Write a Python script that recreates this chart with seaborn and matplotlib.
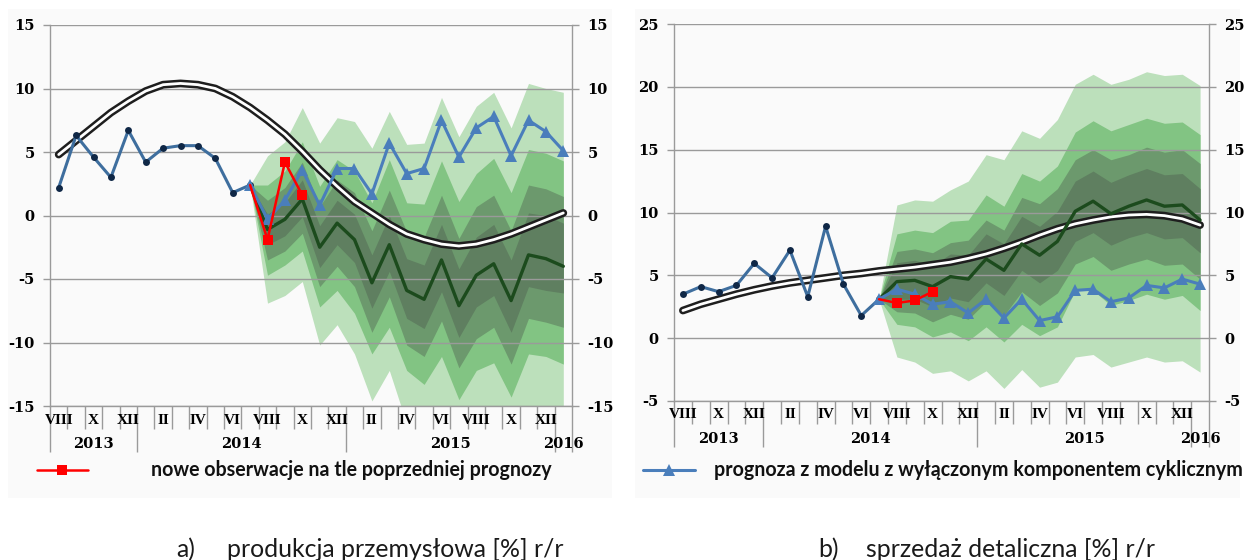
import numpy as np
import matplotlib
matplotlib.use("Agg")
import matplotlib.pyplot as plt
import matplotlib.transforms as mtransforms
from matplotlib.patches import Rectangle
from matplotlib.lines import Line2D
import seaborn as sns

# ------------------------------------------------------------------ data
months = ["VIII", "IX", "X", "XI", "XII",
          "I", "II", "III", "IV", "V", "VI", "VII", "VIII", "IX", "X", "XI", "XII",
          "I", "II", "III", "IV", "V", "VI", "VII", "VIII", "IX", "X", "XI", "XII",
          "I"]
years = ["2013", "2014", "2015", "2016"]

# a) produkcja przemysłowa
ip_hist = [2.2, 6.3, 4.6, 3.0, 6.7, 4.2, 5.3, 5.5, 5.5, 4.5, 1.8, 2.4]
ip_nocycle = [2.4, -0.3, 1.2, 3.6, 0.8, 3.7, 3.7, 1.7, 5.7, 3.3, 3.7, 7.5, 4.6, 6.9, 7.8, 4.7, 7.5, 6.6, 5.1]
ip_new = [2.4, -1.9, 4.2, 1.6]
ip_central = [2.4, -1.1, -0.3, 1.3, -2.5, -0.6, -1.9, -5.3, -2.3, -5.9, -6.6, -3.5, -7.1, -4.7, -3.8, -6.7, -3.1, -3.4, -4.0]
ip_trend = [4.8, 5.9, 7.0, 8.1, 9.0, 9.8, 10.3, 10.4, 10.3, 10.0, 9.35, 8.5, 7.5, 6.4, 5.05,
            3.6, 2.3, 1.1, 0.2, -0.7, -1.45, -1.9, -2.25, -2.4, -2.25, -1.9, -1.45, -0.9, -0.35, 0.2]
ip_b90_hi = [2.4, 4.7, 5.8, 8.5, 5.7, 7.7, 7.4, 5.3, 8.2, 5.6, 5.7, 9.3, 6.2, 8.6, 9.7, 6.9, 10.4, 10.0, 9.7]
ip_b90_lo = [2.4, -6.9, -6.3, -5.2, -10.2, -8.6, -10.9, -14.6, -12.2, -16.4, -17.4, -15.6, -18.8, -16.5, -15.8, -18.6, -15.4, -15.5, -16.0]
ip_b60_hi = [2.4, 2.4, 3.5, 5.8, 2.3, 4.4, 3.5, 1.0, 4.4, 1.0, 0.9, 4.3, 1.1, 3.3, 4.5, 1.8, 5.2, 4.9, 4.3]
ip_b60_lo = [2.4, -4.7, -3.9, -2.8, -7.2, -5.9, -7.7, -10.9, -8.8, -12.2, -13.3, -11.1, -14.5, -12.2, -11.6, -14.3, -10.9, -11.1, -11.7]
ip_b30_hi = [2.4, 1.2, 2.2, 4.2, 0.7, 2.8, 1.8, -1.2, 2.0, -1.3, -1.7, 1.6, -1.8, 0.7, 1.6, -1.2, 2.4, 2.1, 1.5]
ip_b30_lo = [2.4, -3.5, -2.8, -1.4, -5.6, -4.0, -5.6, -9.2, -6.4, -10.2, -11.1, -8.3, -12.0, -9.7, -8.8, -11.7, -8.1, -8.4, -8.8]
ip_b10_hi = [2.4, 0.1, 1.0, 2.8, -0.8, 1.2, 0.1, -3.1, 0.0, -3.4, -3.9, -0.7, -4.2, -1.7, -0.7, -3.5, 0.2, 0.0, -0.6]
ip_b10_lo = [2.4, -2.3, -1.6, -0.1, -4.1, -2.3, -3.7, -7.3, -4.4, -8.1, -8.9, -6.0, -9.6, -7.2, -6.3, -9.2, -5.6, -5.9, -6.1]
ip_yticks = [-15, -10, -5, 0, 5, 10, 15]

# b) sprzedaż detaliczna
rs_hist = [3.5, 4.1, 3.7, 4.2, 5.95, 4.8, 7.0, 3.3, 8.9, 4.3, 1.8, 3.1]
rs_nocycle = [3.1, 3.9, 3.5, 2.7, 2.9, 2.0, 3.1, 1.6, 3.1, 1.4, 1.7, 3.8, 3.9, 2.9, 3.2, 4.2, 4.0, 4.7, 4.3]
rs_new = [3.1, 2.8, 3.0, 3.7]
rs_central = [3.1, 4.5, 4.6, 4.1, 4.9, 4.7, 6.3, 5.4, 7.5, 6.6, 7.7, 10.1, 10.9, 9.9, 10.5, 11.0, 10.5, 10.6, 9.4]
rs_trend = [2.2, 2.7, 3.1, 3.5, 3.85, 4.15, 4.4, 4.6, 4.8, 5.0, 5.15, 5.35, 5.5, 5.65, 5.85,
            6.05, 6.35, 6.7, 7.15, 7.65, 8.2, 8.7, 9.1, 9.4, 9.65, 9.8, 9.85, 9.75, 9.5, 9.0]
rs_b90_hi = [3.1, 10.6, 11.0, 10.9, 11.8, 12.5, 14.6, 14.2, 16.5, 15.9, 17.4, 20.2, 21.0, 20.2, 20.6, 21.2, 20.9, 21.0, 20.1]
rs_b90_lo = [3.1, -1.5, -1.9, -2.8, -2.6, -3.4, -2.6, -4.0, -2.5, -3.9, -3.5, -1.5, -1.3, -2.3, -1.9, -1.5, -1.9, -1.8, -2.7]
rs_b60_hi = [3.1, 8.3, 8.6, 8.4, 9.3, 9.4, 11.4, 10.5, 13.1, 12.5, 13.7, 16.4, 17.3, 16.5, 17.0, 17.5, 17.1, 17.2, 16.2]
rs_b60_lo = [3.1, 1.1, 0.9, 0.1, 0.5, -0.2, 0.9, -0.3, 1.1, 0.2, 0.9, 3.8, 3.8, 2.6, 3.0, 3.5, 3.1, 3.4, 2.2]
rs_b30_hi = [3.1, 6.9, 7.1, 6.8, 7.6, 7.8, 9.4, 8.6, 11.2, 10.7, 11.9, 14.2, 15.0, 14.2, 14.6, 15.2, 14.8, 15.0, 13.9]
rs_b30_lo = [3.1, 2.1, 2.0, 1.3, 1.9, 1.5, 2.9, 1.8, 3.7, 2.6, 3.6, 5.9, 6.5, 5.4, 5.9, 6.3, 5.8, 5.9, 4.7]
rs_b10_hi = [3.1, 6.0, 6.2, 5.8, 6.7, 6.6, 8.3, 7.5, 9.7, 8.9, 10.1, 12.5, 13.3, 12.4, 13.0, 13.5, 13.0, 13.1, 11.9]
rs_b10_lo = [3.1, 3.1, 3.1, 2.5, 3.2, 2.9, 4.4, 3.4, 5.4, 4.4, 5.4, 7.7, 8.4, 7.4, 8.0, 8.4, 7.9, 8.0, 6.8]
rs_yticks = [-5, 0, 5, 10, 15, 20, 25]

legend_a = "nowe obserwacje na tle poprzedniej prognozy"
legend_b = "prognoza z modelu z wyłączonym komponentem cyklicznym"
caption_a = ("a)", "produkcja przemysłowa [%] r/r")
caption_b = ("b)", "sprzedaż detaliczna [%] r/r")

# ------------------------------------------------------------------ style
sns.set_theme(style="white")
plt.rcParams["font.family"] = ["DejaVu Sans"]

FAN_COLORS = ["#BCE0BB", "#82C483", "#6C996D", "#5F7F60"]
C_HIST_LINE = "#3E6E9E"
C_HIST_DOT = "#0F2746"
C_NOCYC = "#4A7EBB"
C_CENTRAL = "#1C4B1D"
C_NEW = "#FF0000"
C_GRID = "#9A9A9A"
C_BG = "#FAFAFA"
SERIF = "DejaVu Serif"
SANS = "Lato"

W, H, DPI = 1245, 560, 100
fig = plt.figure(figsize=(W / DPI, H / DPI), dpi=DPI)
fig.patch.set_facecolor("white")


def fx(px):
    return px / W


def fy(py):
    return 1 - py / H


for x0, x1 in [(8, 612), (635, 1240)]:
    fig.add_artist(Rectangle((fx(x0), fy(498)), fx(x1) - fx(x0), fy(9) - fy(498),
                             transform=fig.transFigure, facecolor=C_BG,
                             edgecolor="none", zorder=-5))

axL = fig.add_axes([fx(50), fy(406), fx(572) - fx(50), fy(25) - fy(406)])
axR = fig.add_axes([fx(674), fy(401), fx(1209) - fx(674), fy(24) - fy(401)])

n = len(months)
x_all = np.arange(n)
# year of each month (year changes at every "I")
year_idx = np.cumsum([1 if m == "I" else 0 for m in months])
f0 = 11  # index of VII 2014 (start of forecast)
x_fc = x_all[f0:]
x_hist = x_all[:f0 + 1]


def draw_panel(ax, hist, nocyc, new, central, trend, bands, yticks):
    ax.set_facecolor(C_BG)
    # fan
    for (lo, hi), col in zip(bands, FAN_COLORS):
        ax.fill_between(x_fc, lo, hi, color=col, linewidth=0, zorder=1)
    # double trend line
    sns.lineplot(x=x_all, y=trend, ax=ax, color="#1E1E1E", linewidth=5.6,
                 solid_capstyle="round", sort=False, estimator=None, zorder=3)
    sns.lineplot(x=x_all, y=trend, ax=ax, color="white", linewidth=2.0,
                 solid_capstyle="round", sort=False, estimator=None, zorder=3.1)
    # central path
    sns.lineplot(x=x_fc, y=central, ax=ax, color=C_CENTRAL, linewidth=2.4,
                 sort=False, estimator=None, zorder=4)
    # history
    sns.lineplot(x=x_hist, y=hist, ax=ax, color=C_HIST_LINE, linewidth=2.2,
                 marker="o", markersize=5, markerfacecolor=C_HIST_DOT,
                 markeredgewidth=0, sort=False, estimator=None, zorder=5)
    # model without cyclical component
    sns.lineplot(x=x_fc, y=nocyc, ax=ax, color=C_NOCYC, linewidth=2.2,
                 marker="^", markersize=8, markeredgewidth=0,
                 sort=False, estimator=None, zorder=6)
    # new observations
    sns.lineplot(x=x_fc[:len(new)], y=new, ax=ax, color=C_NEW, linewidth=1.8,
                 marker="s", markersize=7, markeredgewidth=0,
                 markevery=list(range(1, len(new))),
                 sort=False, estimator=None, zorder=7)

    ax.set_xlim(-0.5, n - 0.5)
    ax.set_ylim(yticks[0], yticks[-1])
    ax.set_xlabel("")
    ax.set_ylabel("")

    # y axis: labels both sides
    ax.set_yticks(yticks)
    ax.set_yticklabels([str(v) for v in yticks])
    ax.yaxis.set_ticks_position("both")
    ax.tick_params(axis="y", which="major", left=True, right=True,
                   labelleft=True, labelright=True, length=5, width=1,
                   color=C_GRID, pad=6, labelsize=10.5, labelcolor="black")
    for t in ax.yaxis.get_major_ticks():
        for lab in (t.label1, t.label2):
            lab.set_fontfamily(SERIF)
            lab.set_fontweight("bold")
    ax.grid(axis="y", color=C_GRID, linewidth=1.0)
    ax.grid(axis="x", visible=False)
    ax.set_axisbelow("line")

    for s in ["left", "right", "bottom"]:
        ax.spines[s].set_visible(True)
        ax.spines[s].set_color(C_GRID)
        ax.spines[s].set_linewidth(1.0)
    ax.spines["top"].set_visible(False)

    # x axis: month separators + year separators
    bounds = np.arange(n + 1) - 0.5
    year_bounds = [-0.5] + [i - 0.5 for i in range(1, n) if year_idx[i] != year_idx[i - 1]]
    long_bounds = year_bounds + [n - 0.5]
    ax.set_xticks(long_bounds)
    ax.set_xticks([b for b in bounds if b not in long_bounds], minor=True)
    ax.tick_params(axis="x", which="major", length=33, width=1, color=C_GRID,
                   bottom=True, labelbottom=False, direction="out")
    ax.tick_params(axis="x", which="minor", length=16.5, width=1, color=C_GRID,
                   bottom=True, labelbottom=False, direction="out")

    tr_m = mtransforms.offset_copy(ax.get_xaxis_transform(), fig=fig,
                                   y=-14 * 72 / DPI, units="points")
    tr_y = mtransforms.offset_copy(ax.get_xaxis_transform(), fig=fig,
                                   y=-38 * 72 / DPI, units="points")
    for i in range(0, n, 2):
        ax.text(i, 0, months[i], transform=tr_m, ha="center", va="center",
                fontfamily="Liberation Serif", fontweight="bold", fontsize=11,
                color="black")
    edges = long_bounds
    for k, yr in enumerate(years):
        c = (edges[k] + edges[k + 1]) / 2
        ax.text(c, 0, yr, transform=tr_y, ha="center", va="center",
                fontfamily=SERIF, fontweight="bold", fontsize=10.5, color="black")


draw_panel(axL, ip_hist, ip_nocycle, ip_new, ip_central, ip_trend,
           [(ip_b90_lo, ip_b90_hi), (ip_b60_lo, ip_b60_hi),
            (ip_b30_lo, ip_b30_hi), (ip_b10_lo, ip_b10_hi)], ip_yticks)
draw_panel(axR, rs_hist, rs_nocycle, rs_new, rs_central, rs_trend,
           [(rs_b90_lo, rs_b90_hi), (rs_b60_lo, rs_b60_hi),
            (rs_b30_lo, rs_b30_hi), (rs_b10_lo, rs_b10_hi)], rs_yticks)

# ------------------------------------------------------------------ legends
fig.add_artist(Line2D([fx(37), fx(88)], [fy(470), fy(470)], transform=fig.transFigure,
                      color=C_NEW, linewidth=1.8))
fig.add_artist(Line2D([fx(62)], [fy(470)], transform=fig.transFigure, color=C_NEW,
                      marker="s", markersize=7, markeredgewidth=0, linestyle="none"))
fig.add_artist(Line2D([fx(643), fx(695)], [fy(470), fy(470)], transform=fig.transFigure,
                      color=C_NOCYC, linewidth=2.2))
fig.add_artist(Line2D([fx(669)], [fy(470)], transform=fig.transFigure, color=C_NOCYC,
                      marker="^", markersize=9, markeredgewidth=0, linestyle="none"))

leg_a = fig.text(fx(151), fy(470), legend_a, ha="left", va="center",
                 fontfamily=SANS, fontweight="bold", fontsize=12, color="#111111")
leg_b = fig.text(fx(714), fy(470), legend_b, ha="left", va="center",
                 fontfamily=SANS, fontweight="bold", fontsize=12, color="#111111")

fig.canvas.draw()
rend = fig.canvas.get_renderer()
for t, target in [(leg_a, 398), (leg_b, 525)]:
    w = t.get_window_extent(renderer=rend).width
    t.set_fontsize(t.get_fontsize() * target / w)

# caption font size: "produkcja przemysłowa" spans about 261 px
probe = fig.text(0, 0, "produkcja przemysłowa", fontfamily=SANS, fontsize=14)
w = probe.get_window_extent(renderer=rend).width
cap_fs = 14 * 261 / w
probe.remove()

for (lbl, txt), xl, xt in [(caption_a, 176, 227), (caption_b, 818, 866)]:
    fig.text(fx(xl), fy(557), lbl, ha="left", va="baseline",
             fontfamily=SANS, fontsize=cap_fs, color="#1A1A1A")
    fig.text(fx(xt), fy(557), txt, ha="left", va="baseline",
             fontfamily=SANS, fontsize=cap_fs, color="#1A1A1A")

fig.savefig("out.png", dpi=DPI, facecolor="white")
